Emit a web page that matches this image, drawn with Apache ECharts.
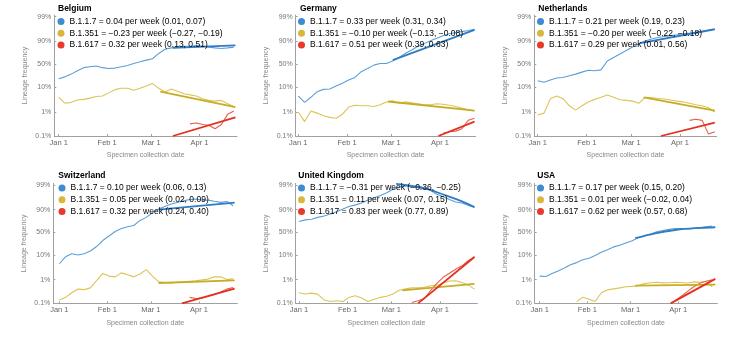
<!DOCTYPE html>
<html><head><meta charset="utf-8">
<script src="https://cdn.jsdelivr.net/npm/echarts@6/dist/echarts.min.js"></script>
<style>html,body{margin:0;padding:0;background:#fff}#c{width:739px;height:356px}</style>
</head><body><div id="c"></div><script>
// ---- data ----
const days = [0,4,8,12,16,20,24,28,32,36,40,44,48,52,56,60,64,68,72,76,80,84,88,92,96,100,104,108,112];
const tickDays = [0,31,59,90];
const tickLabels = ['Jan 1','Feb 1','Mar 1','Apr 1'];
const yTickPct = [0.1,1,10,50,90,99];
const yTickLabels = ['0.1%','1%','10%','50%','90%','99%'];
const variants = ['B.1.1.7','B.1.351','B.1.617'];
const N = null;

const belRates = ['0.04 per week (0.01, 0.07)','\u22120.23 per week (\u22120.27, \u22120.19)','0.32 per week (0.13, 0.51)'];
const bel117 = [20,23,28,35,42,44,46,42,40,41,44,47,52,56,60,63,74,81,83,84,85,85,86,85,84,83,82,83,84];
const bel351 = [4,2.3,2.5,3.1,3.3,3.7,4.3,4.5,6,8,9,9,7.6,9,11,13.5,9,6.5,8.5,7,5.5,5,4.5,3.5,3,2.8,3,2.2,1.7];
const bel617 = [N,N,N,N,N,N,N,N,N,N,N,N,N,N,N,N,N,N,N,N,N,0.32,0.35,0.3,0.28,0.2,0.3,0.8,1.1];
const belFit117 = [[73,83],[113,86]];
const belFit351 = [[65,6.7],[113,1.6]];
const belFit617 = [[73,0.1],[113,0.6]];

const gerRates = ['0.33 per week (0.31, 0.34)','\u22120.10 per week (\u22120.13, \u22120.08)','0.51 per week (0.39, 0.63)'];
const ger117 = [4.5,2.5,4,6.7,8.2,8.5,11,13.8,18,22,33,40,48,52,52,58,66,74,80,85,88,90.7,92.5,94,95,95.5,95.9,96.3,96.7];
const ger351 = [1.0,0.4,1.1,0.9,0.7,0.6,0.55,0.8,1.6,1.9,1.8,1.8,1.7,2.0,2.6,2.9,2.3,2.6,2.4,2.2,2.0,2.0,2.2,2.1,1.9,1.7,1.45,1.25,1.1];
const ger617 = [N,N,N,N,N,N,N,N,N,N,N,N,N,N,N,N,N,N,N,N,N,N,N,0.13,0.15,0.16,0.2,0.45,0.55];
const gerFit117 = [[60,60],[112,96.5]];
const gerFit351 = [[57,2.7],[112,1.15]];
const gerFit617 = [[89,0.1],[112,0.4]];

const nedRates = ['0.21 per week (0.19, 0.23)','\u22120.20 per week (\u22120.22, \u22120.18)','0.29 per week (0.01, 0.56)'];
const ned117 = [17,15,18,21,22,25,28,32,36,35,37,58,66,73,79,84,88,90.5,92,93,93.6,94,94.5,95,95.3,95.6,96,96.4,96.7];
const ned351 = [0.75,0.9,3.5,4.5,3.5,1.8,1.2,1.8,2.6,3.3,4.0,4.9,4.0,3.2,3.0,2.8,2.3,4.0,3.9,3.6,3.4,3.1,2.8,2.6,2.3,2.0,1.8,1.5,1.0];
const ned617 = [N,N,N,N,N,N,N,N,N,N,N,N,N,N,N,N,N,N,N,N,N,N,N,N,0.45,0.5,0.45,0.12,0.15];
const nedFit117 = [[65,88.5],[112,96.7]];
const nedFit351 = [[67,4.0],[112,1.15]];
const nedFit617 = [[78,0.1],[112,0.36]];

const suiRates = ['0.10 per week (0.06, 0.13)','0.05 per week (0.02, 0.09)','0.32 per week (0.24, 0.40)'];
const sui117 = [4.5,8.5,11,10,11,14,20,31,41,52,59,63,66,76,81,87,90.5,92.5,94,94.8,95.5,96,96.2,95.8,95.8,95.3,94.8,95.2,93];
const sui351 = [0.14,0.18,0.28,0.4,0.38,0.45,0.9,1.8,1.4,1.3,1.9,1.6,1.3,1.7,2.6,1.4,0.8,0.75,0.72,0.77,0.8,0.85,0.9,0.97,1.05,1.3,1.3,1.0,1.1];
const sui617 = [N,N,N,N,N,N,N,N,N,N,N,N,N,N,N,N,N,N,N,N,N,0.18,0.16,0.17,0.2,0.24,0.3,0.4,0.47];
const suiFit117 = [[64,90],[113,94.7]];
const suiFit351 = [[64,0.72],[113,0.92]];
const suiFit617 = [[79,0.1],[113,0.42]];

const ukRates = ['\u22120.31 per week (\u22120.36, \u22120.25)','0.11 per week (0.07, 0.15)','0.83 per week (0.77, 0.89)'];
const uk117 = [74,77,78,81,83,85.5,88,90.5,92.5,93.5,94.5,95.8,96.6,97.3,97.9,98.5,98.8,98.9,98.8,98.9,98.7,98.3,97.6,96.9,96,95,94.5,93.2,92];
const uk351 = [0.28,0.25,0.27,0.24,0.14,0.12,0.13,0.12,0.18,0.21,0.17,0.12,0.15,0.18,0.2,0.25,0.36,0.41,0.45,0.45,0.48,0.55,0.58,0.72,0.88,0.9,0.75,0.6,0.4];
const uk617 = [N,N,N,N,N,N,N,N,N,N,N,N,N,N,N,N,N,N,0.11,0.13,0.16,0.35,0.7,1.25,1.85,2.7,3.7,6.0,8.5];
const ukFit117 = [[62,99.1],[72,98.9],[82,98.5],[93,97.4],[104,95.3],[112,92]];
const ukFit351 = [[66,0.35],[112,0.66]];
const ukFit617 = [[76,0.1],[112,8.3]];

const usaRates = ['0.17 per week (0.15, 0.20)','0.01 per week (\u22120.02, 0.04)','0.62 per week (0.57, 0.68)'];
const usa117 = [1.4,1.35,1.8,2.3,3.0,4.1,5.0,6.5,7.5,9.5,12.5,15.5,19.5,22,26,30.5,37,41.5,46,51,54.5,57,59,59,58.5,59.5,61,63,65];
const usa351 = [N,N,N,N,N,N,0.12,0.18,0.15,0.12,0.28,0.37,0.41,0.45,0.5,0.52,0.56,0.68,0.74,0.78,0.73,0.74,0.77,0.76,0.72,0.8,0.78,0.85,0.5];
const usa617 = [N,N,N,N,N,N,N,N,N,N,N,N,N,N,N,N,N,N,N,N,N,N,0.13,0.2,0.32,0.5,0.7,0.85,0.98];
const usaFit117 = [[62,36],[75,47.6],[88,55.6],[101,60],[114,62]];
const usaFit351 = [[62,0.56],[114,0.62]];
const usaFit617 = [[85,0.1],[114,1.07]];

// ---- layout ----
const panels = [
  {title:'Belgium', rates:belRates, vals:[bel117,bel351,bel617], fits:[belFit117,belFit351,belFit617],
   left:54.3, top:15, width:182.7, height:121, xmin:-2.8, xmax:114, titleLeft:58, legendLeft:57.5},
  {title:'Germany', rates:gerRates, vals:[ger117,ger351,ger617], fits:[gerFit117,gerFit351,gerFit617],
   left:295.7, top:15, width:179.8, height:121, xmin:-1.65, xmax:112.6, titleLeft:300, legendLeft:298},
  {title:'Netherlands', rates:nedRates, vals:[ned117,ned351,ned617], fits:[nedFit117,nedFit351,nedFit617],
   left:534.3, top:15, width:182.4, height:121, xmin:-2.15, xmax:113.2, titleLeft:538.3, legendLeft:537},
  {title:'Switzerland', rates:suiRates, vals:[sui117,sui351,sui617], fits:[suiFit117,suiFit351,suiFit617],
   left:53.3, top:183.4, width:184, height:120, xmin:-3.9, xmax:114.7, titleLeft:58.3, legendLeft:58.5},
  {title:'United Kingdom', rates:ukRates, vals:[uk117,uk351,uk617], fits:[ukFit117,ukFit351,ukFit617],
   left:295.7, top:183.4, width:181.6, height:120, xmin:-2.1, xmax:113.8, titleLeft:298.3, legendLeft:298},
  {title:'USA', rates:usaRates, vals:[usa117,usa351,usa617], fits:[usaFit117,usaFit351,usaFit617],
   left:534.7, top:183.4, width:182.6, height:120, xmin:-3.25, xmax:115.3, titleLeft:537.3, legendLeft:537}
];

const FONT = "'Liberation Sans', Arial, sans-serif";
const dataColors = ['#5b9fd8','#dcc455','#ea5d4d'];
const fitColors = ['#2f7cc4','#c6ad24','#e2301f'];
const legendColors = ['#3d8bd2','#d8b83c','#e63a2b'];
const axisColor = '#a0a0a0';

function logit(pct){ const p = pct/100; return Math.log(p/(1-p)); }
const yTickVals = yTickPct.map(logit);
function nearestLabel(v, vals, labels){
  let b = 0;
  for (let k=1;k<vals.length;k++) if (Math.abs(vals[k]-v) < Math.abs(vals[b]-v)) b = k;
  return labels[b];
}

const option = {animation:false, backgroundColor:'#fff', textStyle:{fontFamily:FONT},
  title:[], legend:[], grid:[], xAxis:[], yAxis:[], series:[]};

panels.forEach((p,i)=>{
  const row = i<3 ? 0 : 1;
  option.grid.push({left:p.left, top:p.top, width:p.width, height:p.height});
  option.title.push({text:p.title, left:p.titleLeft, top: row ? 171.5 : 4, padding:0,
    textStyle:{fontSize:8.5, fontWeight:'bold', color:'#000', fontFamily:FONT}});
  const names = variants.map((v,k)=> v + ' = ' + p.rates[k]);
  option.legend.push({left:p.legendLeft, top: row ? 183 : 16.5, orient:'vertical', icon:'circle',
    itemWidth:7, itemHeight:7, itemGap:1.8, padding:0, selectedMode:false,
    textStyle:{fontSize:8.5, color:'#000', lineHeight:10, fontFamily:FONT},
    data: names.map((n,k)=>({name:n, itemStyle:{color:legendColors[k]}}))});
  option.xAxis.push({type:'value', gridIndex:i, min:p.xmin, max:p.xmax,
    axisLine:{onZero:false, lineStyle:{color:axisColor, width:1}},
    axisTick:{show:true, inside:true, length:2, customValues:tickDays, lineStyle:{color:axisColor}},
    axisLabel:{customValues:tickDays, formatter:v=>nearestLabel(v,tickDays,tickLabels),
      fontSize:7.5, color:'#666', margin:3, fontFamily:FONT},
    splitLine:{show:false},
    name:'Specimen collection date', nameLocation:'middle', nameGap:16,
    nameTextStyle:{fontSize:7, color:'#888', fontFamily:FONT}});
  option.yAxis.push({type:'value', gridIndex:i, min:logit(0.1), max:4.75,
    axisLine:{show:true, onZero:false, lineStyle:{color:axisColor, width:1}},
    axisTick:{show:true, inside:true, length:2, customValues:yTickVals, lineStyle:{color:axisColor}},
    axisLabel:{customValues:yTickVals, formatter:v=>nearestLabel(v,yTickVals,yTickLabels),
      fontSize:7, color:'#777', margin:3, fontFamily:FONT},
    splitLine:{show:false},
    name:'Lineage frequency', nameLocation:'middle', nameGap:26,
    nameTextStyle:{fontSize:7, color:'#888', fontFamily:FONT}});
  p.vals.forEach((arr,k)=>{
    const pts = [];
    arr.forEach((v,j)=>{ if (v!=null) pts.push([days[j], logit(v)]); });
    option.series.push({type:'line', name:names[k], xAxisIndex:i, yAxisIndex:i, data:pts,
      showSymbol:false, silent:true, z:2, lineStyle:{width:1.1, color:dataColors[k]},
      itemStyle:{color:dataColors[k]}});
  });
  p.fits.forEach((f,k)=>{
    option.series.push({type:'line', name:names[k], xAxisIndex:i, yAxisIndex:i,
      data:f.map(d=>[d[0], logit(d[1])]), smooth: f.length>2 ? 0.4 : false,
      showSymbol:false, silent:true, z:3, lineStyle:{width:1.8, color:fitColors[k]},
      itemStyle:{color:fitColors[k]}});
  });
});

const chart = echarts.init(document.getElementById('c'), null, {renderer:'canvas'});
chart.setOption(option);
</script></body></html>
